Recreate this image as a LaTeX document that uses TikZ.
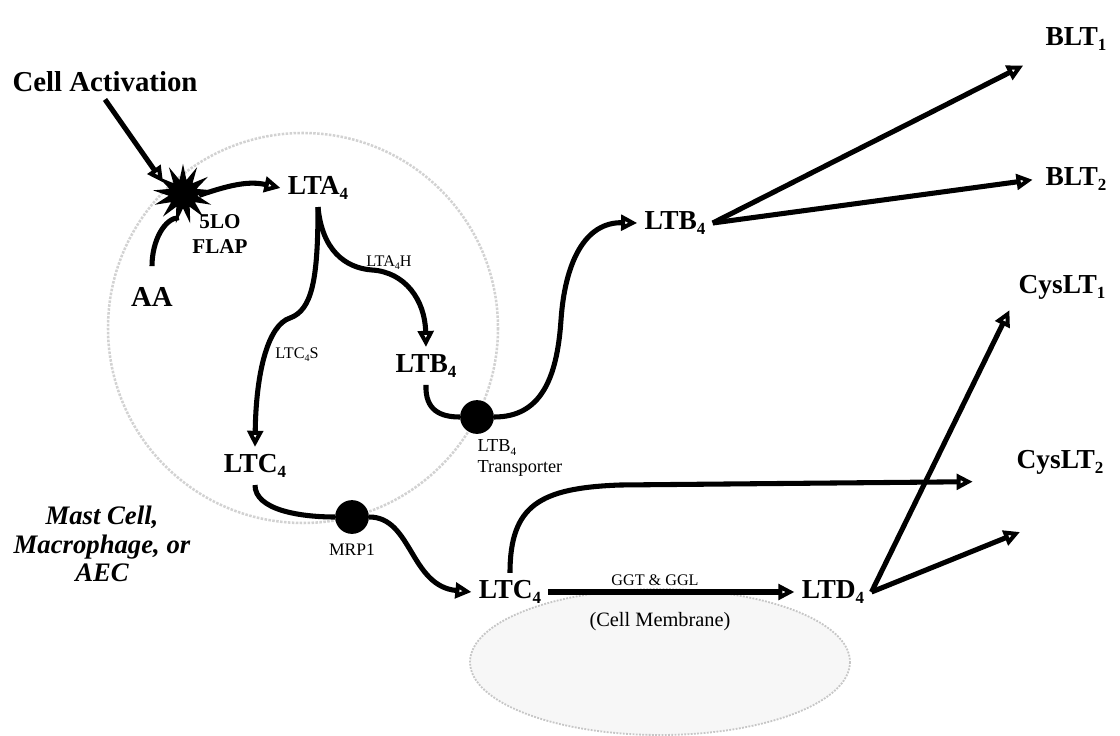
\documentclass[tikz,border=0pt]{standalone}
\usepackage{fontspec}
\setmainfont{Liberation Serif}
\usetikzlibrary{positioning, arrows.meta, shapes.geometric}
\newcommand{\lsub}[1]{\raisebox{-0.42ex}{\scalebox{0.62}{#1}}}

\begin{document}
\begin{tikzpicture}[
  x=0.025cm, y=-0.025cm,
  mol/.style={font=\fontsize{19.5}{22}\selectfont\bfseries, inner sep=5pt},
  big/.style={font=\fontsize{20.5}{24}\selectfont\bfseries, inner sep=5pt},
  enz/.style={font=\fontsize{11.5}{13}\selectfont, inner sep=1pt},
  pump/.style={circle, fill=black, minimum size=24pt, inner sep=0pt},
  flow/.style={line width=3.6pt, -{Triangle[open, length=11.5pt, width=11pt]}},
  link/.style={line width=3.6pt},
]
\useasboundingbox (0,0) rectangle (1120,736);

% --- Cell outline and membrane ---
\draw[gray!35, line width=1.8pt, densely dotted]
  (303,328) ellipse [x radius=195, y radius=195];
\filldraw[fill=gray!6, draw=gray!45, line width=1.3pt, densely dotted]
  (660,662) ellipse [x radius=190, y radius=73];

% --- Activation ---
\node[big] (act) at (105,82) {Cell Activation};
\node[star, star points=13, star point ratio=2.1, fill=black,
  minimum size=43pt, inner sep=0pt] (lo) at (183,194) {};
\node[big] (aa) at (152,297) {AA};
\node[font=\fontsize{15}{17.7}\selectfont\bfseries, align=center] (flap)
  at (220,234) {5LO\\FLAP};
\node[font=\fontsize{19}{20.5}\selectfont\bfseries\itshape, align=center] (host)
  at (102,544) {Mast Cell,\\Macrophage, or\\AEC};

% --- Inside the cell ---
\node[mol] (lta) at (318,188) {LTA\lsub{4}};
\node[mol] (ltbin) at (426,366) {LTB\lsub{4}};
\node[mol] (ltcin) at (255,466) {LTC\lsub{4}};
\node[enz] (lta4h) at (389,263) {LTA\lsub{4}H};
\node[enz] (ltc4s) at (297,355) {LTC\lsub{4}S};

% --- Transporters ---
\node[pump] (trans) at (477,417) {};
\node[enz, font=\fontsize{13}{15}\selectfont, align=left, anchor=north west]
  (translbl) at (476,438) {LTB\lsub{4}\\Transporter};
\node[pump] (mrp) at (352,517) {};
\node[enz, font=\fontsize{12.5}{15}\selectfont] (mrplbl) at (352,550) {MRP1};

% --- Outside the cell ---
\node[mol] (ltbout) at (675,223) {LTB\lsub{4}};
\node[mol] (ltcout) at (510,592) {LTC\lsub{4}};
\node[mol] (ltd) at (833,592) {LTD\lsub{4}};
\node[enz] (ggt) at (655,580) {GGT \& GGL};
\node[font=\fontsize{14.5}{16}\selectfont] (memb) at (660,622) {(Cell Membrane)};

% --- Receptors ---
\node[mol] (blt1) at (1076,39) {BLT\lsub{1}};
\node[mol] (blt2) at (1076,179) {BLT\lsub{2}};
\node[mol] (cys1) at (1062,287) {CysLT\lsub{1}};
\node[mol] (cys2) at (1060,462) {CysLT\lsub{2}};
\coordinate (cys2low) at (1020,532);

% --- Synthesis ---
\draw[flow] (act.south) -- (lo.150);
\draw[link, shorten <=10pt] (aa.north) .. controls (152,240) and (165,218) .. (lo.260);
\draw[flow] (lo.-5) .. controls (232,184) and (250,181) .. (lta.west);
\draw[flow] (lta.south) .. controls (318,280) and (312,310) .. (290,318)
  .. controls (268,325) and (256,372) .. (ltcin.north);
\draw[flow] (lta.south) .. controls (322,250) and (345,268) .. (372,270)
  .. controls (405,272) and (425,300) .. (ltbin.north);

% --- Export ---
\draw[link] (ltbin.south) .. controls (425,410) and (440,417) .. (trans.west);
\draw[flow] (trans.east) .. controls (540,417) and (557,380) .. (561,320)
  .. controls (565,262) and (585,222) .. (ltbout.west);
\draw[link] (ltcin.south) .. controls (255,510) and (300,517) .. (mrp.west);
\draw[flow] (mrp.east) .. controls (412,517) and (410,586) .. (ltcout.west);

% --- Conversion and receptors ---
\draw[flow] (ltcout.east) -- (ltd.west);
\draw[flow, shorten >=26pt] (ltcout.north) .. controls (510,505) and (540,488) .. (620,485)
  -- (cys2.south west);
\draw[flow, shorten >=12pt] (ltbout.east) -- (blt1.south west);
\draw[flow, shorten >=4pt] (ltbout.east) -- (blt2.west);
\draw[flow, shorten >=3pt] (ltd.east) -- (cys1.south west);
\draw[flow] (ltd.east) -- (cys2low);

\end{tikzpicture}
\end{document}
